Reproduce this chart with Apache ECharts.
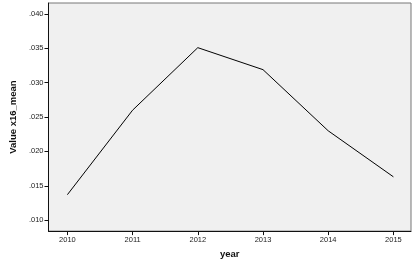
<!DOCTYPE html>
<html>
<head>
<meta charset="utf-8">
<script src="https://cdn.jsdelivr.net/npm/echarts@6/dist/echarts.min.js"></script>
<style>
html, body { margin: 0; padding: 0; background: #fff; }
#chart { width: 417px; height: 264px; }
</style>
</head>
<body>
<div id="chart"></div>
<script>
// data
var years = [2010, 2011, 2012, 2013, 2014, 2015];
var values = [0.0137, 0.0260, 0.0351, 0.0319, 0.0230, 0.0163];
var yTicks = [0.010, 0.015, 0.020, 0.025, 0.030, 0.035, 0.040];

var chart = echarts.init(document.getElementById('chart'));

var option = {
    animation: false,
    backgroundColor: '#fff',
    textStyle: { fontFamily: 'Liberation Sans, Arial, sans-serif' },
    grid: {
        left: 44,
        right: 6,
        top: 3,
        bottom: 32,
        show: true,
        backgroundColor: '#f0f0f0',
        borderColor: '#777',
        borderWidth: 1
    },
    xAxis: {
        type: 'value',
        min: 2009.71,
        max: 2015.27,
        name: 'year',
        nameLocation: 'middle',
        nameGap: 15,
        nameTextStyle: { fontSize: 9.5, fontWeight: 'bold', color: '#111' },
        splitLine: { show: false },
        axisLine: { lineStyle: { color: '#111', width: 1 } },
        axisTick: { customValues: years, length: 4, lineStyle: { color: '#111' } },
        axisLabel: {
            customValues: years,
            fontSize: 7.5,
            color: '#222',
            margin: 5,
            formatter: function (v) { return String(Math.round(v)); }
        }
    },
    yAxis: {
        type: 'value',
        min: 0.0084,
        max: 0.0416,
        name: 'Value x16_mean',
        nameLocation: 'middle',
        nameRotate: 90,
        nameGap: 24,
        nameTextStyle: { fontSize: 9.5, fontWeight: 'bold', color: '#111' },
        splitLine: { show: false },
        axisLine: { show: true, lineStyle: { color: '#111', width: 1 } },
        axisTick: { show: true, customValues: yTicks, length: 4, lineStyle: { color: '#111' } },
        axisLabel: {
            customValues: yTicks,
            fontSize: 7.5,
            color: '#222',
            margin: 5,
            formatter: function (v) { return v.toFixed(3).replace(/^0/, ''); }
        }
    },
    series: [{
        type: 'line',
        data: years.map(function (y, i) { return [y, values[i]]; }),
        symbol: 'none',
        lineStyle: { color: '#000', width: 1 }
    }]
};

chart.setOption(option);
</script>
</body>
</html>
